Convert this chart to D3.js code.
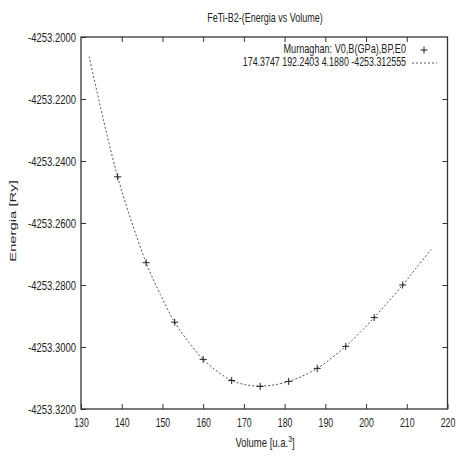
<!DOCTYPE html>
<html>
<head>
<meta charset="utf-8">
<title>FeTi-B2</title>
<style>
  body { margin: 0; background: #fff; }
  svg { display: block; }
  text { font-family: "Liberation Sans", Arial, sans-serif; fill: #222; }
</style>
</head>
<body>
<svg></svg>
<script src="https://d3js.org/d3.v7.min.js"></script>
<script>
const width = 460;
const height = 456;
const margin = { top: 37, right: 12.5, bottom: 47, left: 81 };
const innerWidth = width - margin.left - margin.right;
const innerHeight = height - margin.top - margin.bottom;

// measured points
const volume = [139, 146, 153, 160, 167, 174, 181, 188, 195, 202, 209];
const energy = [-4253.2451, -4253.2728, -4253.2920, -4253.3040, -4253.3108, -4253.3127,
                -4253.3111, -4253.3069, -4253.2998, -4253.2905, -4253.2800];

// fitted curve
const fitVolume = [132, 135.5, 139, 142.5, 146, 149.5, 153, 156.5, 160, 163.5, 167, 170.5, 174,
                   177.5, 181, 184.5, 188, 191.5, 195, 198.5, 202, 205.5, 209, 212.5, 216];
const fitEnergy = [-4253.2063, -4253.2267, -4253.2451, -4253.2599, -4253.2728, -4253.2831,
                   -4253.2920, -4253.2985, -4253.3040, -4253.3079, -4253.3108, -4253.3122,
                   -4253.3126, -4253.3122, -4253.3111, -4253.3093, -4253.3069, -4253.3036,
                   -4253.2998, -4253.2953, -4253.2905, -4253.2853, -4253.2800, -4253.2742,
                   -4253.2685];

const xTicks = [130, 140, 150, 160, 170, 180, 190, 200, 210, 220];
const yTicks = [-4253.32, -4253.30, -4253.28, -4253.26, -4253.24, -4253.22, -4253.20];

const FS = '12.5px';

// the picture is squashed horizontally, so squeeze the text the same way
const squeeze = (sel, k) => sel.each(function () {
  const x = +(this.getAttribute('x') || 0);
  this.setAttribute('x', x / k);
  const t = this.getAttribute('transform') || '';
  this.setAttribute('transform', t + ` scale(${k},1)`);
});

const svg = d3.select('svg').attr('width', width).attr('height', height);
const g = svg.append('g').attr('transform', `translate(${margin.left},${margin.top})`);

const xScale = d3.scaleLinear().domain([130, 220]).range([0, innerWidth]);
const yScale = d3.scaleLinear().domain([-4253.32, -4253.20]).range([innerHeight, 0]);

const fmtY = d => d.toFixed(4);

// axes, ticks pointing inward + mirrored
const styleAxis = sel => {
  sel.select('.domain').remove();
  sel.selectAll('line').attr('stroke', '#333').attr('stroke-width', 1);
  sel.selectAll('text').attr('font-size', FS).attr('fill', '#222');
};

g.append('g').attr('transform', `translate(0,${innerHeight})`)
  .call(d3.axisBottom(xScale).tickValues(xTicks).tickSizeInner(-5).tickSizeOuter(0).tickPadding(9))
  .call(styleAxis)
  .selectAll('text').call(squeeze, 0.7);
g.append('g')
  .call(d3.axisTop(xScale).tickValues(xTicks.slice(1, -1)).tickSizeInner(-5).tickSizeOuter(0).tickFormat(''))
  .call(styleAxis);
g.append('g')
  .call(d3.axisLeft(yScale).tickValues(yTicks).tickFormat(fmtY).tickSizeInner(-5).tickSizeOuter(0).tickPadding(5))
  .call(styleAxis)
  .selectAll('text').call(squeeze, 0.76);
g.append('g').attr('transform', `translate(${innerWidth},0)`)
  .call(d3.axisRight(yScale).tickValues(yTicks.slice(1, -1)).tickSizeInner(-5).tickSizeOuter(0).tickFormat(''))
  .call(styleAxis);

g.append('rect')
  .attr('width', innerWidth).attr('height', innerHeight)
  .attr('fill', 'none').attr('stroke', '#333').attr('stroke-width', 1.3);

// fit curve
const line = d3.line()
  .x((d, i) => xScale(fitVolume[i]))
  .y(d => yScale(d))
  .curve(d3.curveCatmullRom);
g.append('path')
  .attr('d', line(fitEnergy))
  .attr('fill', 'none').attr('stroke', '#555').attr('stroke-width', 1)
  .attr('stroke-dasharray', '2,2');

// data points as "+"
g.selectAll('.pt').data(energy).enter().append('path')
  .attr('class', 'pt')
  .attr('transform', (d, i) => `translate(${xScale(volume[i])},${yScale(d)})`)
  .attr('d', 'M-3.5,0H3.5M0,-3.5V3.5')
  .attr('stroke', '#222').attr('stroke-width', 1);

// legend
const legend = svg.append('g');
legend.append('text').attr('x', 406).attr('y', 53.5).attr('text-anchor', 'end')
  .attr('font-size', FS).text('Murnaghan: V0,B(GPa),BP,E0')
  .call(squeeze, 0.73);
legend.append('text').attr('x', 406).attr('y', 66).attr('text-anchor', 'end')
  .attr('font-size', FS).text('174.3747 192.2403 4.1880 -4253.312555')
  .call(squeeze, 0.71);
legend.append('path').attr('d', 'M420.5,50H427.5M424,46.5V53.5')
  .attr('stroke', '#222').attr('stroke-width', 1);
legend.append('line').attr('x1', 412).attr('x2', 437).attr('y1', 63).attr('y2', 63)
  .attr('stroke', '#555').attr('stroke-dasharray', '2,2');

// title and axis labels
svg.append('text').attr('x', 265).attr('y', 22).attr('text-anchor', 'middle')
  .attr('font-size', FS).text('FeTi-B2-(Energia vs Volume)')
  .call(squeeze, 0.72);

const xl = svg.append('text').attr('transform', 'translate(265,447) scale(0.76,1)')
  .attr('text-anchor', 'middle').attr('font-size', FS);
xl.append('tspan').text('Volume [u.a.');
xl.append('tspan').attr('dy', -5).attr('font-size', '9px').text('3');
xl.append('tspan').attr('dy', 5).text(']');

svg.append('text')
  .attr('transform', 'translate(16,221) scale(0.74,1.14) rotate(-90)')
  .attr('text-anchor', 'middle').attr('font-size', '13px')
  .text('Energia [Ry]');
</script>
</body>
</html>
